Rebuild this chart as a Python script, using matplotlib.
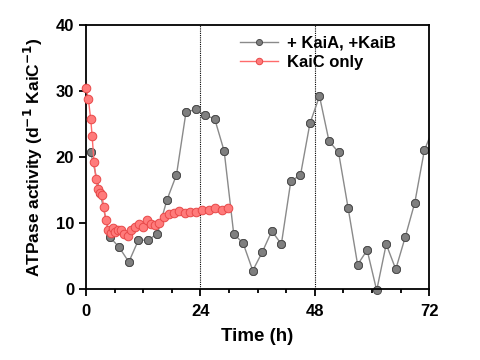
import matplotlib.pyplot as plt
from matplotlib.ticker import MultipleLocator

# + KaiA, +KaiB
gray_x = [1, 3, 5, 7, 9, 11, 13, 15, 17, 19, 21, 23, 25, 27, 29, 31, 33, 35, 37,
          39, 41, 43, 45, 47, 49, 51, 53, 55, 57, 59, 61, 63, 65, 67, 69, 71, 73.3]
gray_y = [20.7, 14.5, 7.9, 6.3, 4.1, 7.4, 7.4, 8.4, 13.5, 17.3, 26.8, 27.2, 26.3,
          25.8, 20.9, 8.4, 6.9, 2.8, 5.6, 8.8, 6.8, 16.4, 17.2, 25.1, 29.2, 22.4,
          20.7, 12.3, 3.7, 5.9, -0.2, 6.8, 3.0, 7.9, 13.1, 21.0, 25.1]

# KaiC only
red_x = [0, 0.5, 1.0, 1.3, 1.7, 2.1, 2.5, 3.0, 3.4, 3.7, 4.2, 4.7, 5.2, 5.7, 6.2,
         6.7, 7.3, 8.0, 8.8, 9.5, 10.3, 11.1, 12.0, 12.9, 13.6, 14.5, 15.4, 16.4,
         17.4, 18.4, 19.6, 20.7, 21.9, 23.1, 24.4, 25.8, 27.1, 28.5, 29.9]
red_y = [30.5, 28.8, 25.8, 23.2, 19.2, 16.7, 15.1, 14.6, 14.2, 12.5, 10.4, 9.0,
         8.5, 9.2, 8.7, 8.9, 8.9, 8.3, 8.1, 9.0, 9.4, 9.8, 9.4, 10.5, 9.9, 9.7,
         10.0, 10.9, 11.4, 11.5, 11.8, 11.5, 11.6, 11.6, 11.9, 12.0, 12.3, 12.0, 12.2]

plt.rcParams['font.family'] = ['Liberation Sans', 'DejaVu Sans']
plt.rcParams['font.weight'] = 'bold'
plt.rcParams['mathtext.default'] = 'bf'

fig = plt.figure(figsize=(4.8, 3.6), dpi=100)
ax = fig.add_axes([0.179, 0.197, 0.715, 0.734])

for xv in (24, 48):
    ax.axvline(xv, color='black', linestyle=(0, (1, 1)), linewidth=0.8, zorder=1)

ax.plot(gray_x, gray_y, '-o', color='#8a8a8a', linewidth=1.0, markersize=5.8,
        markerfacecolor='#7f7f7f', markeredgecolor='#4d4d4d', markeredgewidth=0.7,
        label='+ KaiA, +KaiB', zorder=2)
inside = [i for i, x in enumerate(gray_x) if x <= 72]
ax.plot([gray_x[i] for i in inside], [gray_y[i] for i in inside], 'o', markersize=5.8,
        markerfacecolor='#7f7f7f', markeredgecolor='#4d4d4d', markeredgewidth=0.7,
        clip_on=False, zorder=2)
ax.plot(red_x, red_y, '-o', color='#ff6b6b', linewidth=1.0, markersize=6.2,
        markerfacecolor='#ff7b7b', markeredgecolor='#e84848', markeredgewidth=0.7,
        label='KaiC only', clip_on=False, zorder=3)

ax.set_xlim(0, 72)
ax.set_ylim(0, 40)
ax.xaxis.set_major_locator(MultipleLocator(24))
ax.xaxis.set_minor_locator(MultipleLocator(6))
ax.yaxis.set_major_locator(MultipleLocator(10))
ax.tick_params(which='both', direction='out', width=1.3, labelsize=12)
ax.tick_params(which='major', length=5)
ax.tick_params(which='minor', length=3)
ax.tick_params(axis='x', pad=6)
for s in ax.spines.values():
    s.set_linewidth(1.3)

ax.set_xlabel('Time (h)', fontsize=13.5, fontweight='bold', labelpad=6)
ax.set_ylabel('ATPase activity (d$^{\\mathbf{-1}}$ KaiC$^{\\mathbf{-1}}$)', fontsize=12.5,
              fontweight='bold', labelpad=8)

leg = ax.legend(loc='upper left', bbox_to_anchor=(0.43, 0.985), frameon=False,
                fontsize=12, handlelength=2.3, handletextpad=0.5,
                borderaxespad=0.0, labelspacing=0.25, markerscale=0.75)

fig.savefig('out.png', dpi=100)
